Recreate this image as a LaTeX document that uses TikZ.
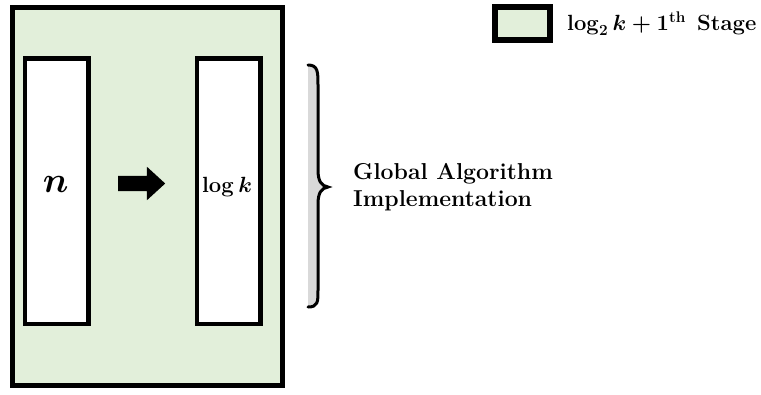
\RequirePackage{fix-cm}
\documentclass[tikz,border=0pt]{standalone}
\usepackage{amssymb,amsmath}
\usepackage{tikz}
\usetikzlibrary{shapes,arrows,arrows.meta}
\usetikzlibrary{positioning}
\definecolor{stagegreen}{HTML}{E2EFDA}
\definecolor{bracegray}{HTML}{D9D9D9}

\begin{document}
\begin{tikzpicture}[x=1pt,y=-1pt]

% Define block styles
\tikzstyle{stage} = [rectangle, draw, line width=5pt, fill=stagegreen, inner sep=0pt]
\tikzstyle{block} = [rectangle, draw, line width=4.5pt, fill=white, inner sep=0pt,
    minimum width=63.5pt, minimum height=265.7pt]
\tikzstyle{fatarrow} = [single arrow, fill=black, inner sep=7.5pt, minimum height=47pt,
    single arrow head extend=9pt, single arrow tip angle=85, single arrow head indent=0pt]
\tikzstyle{txt} = [inner sep=0pt, font=\fontsize{22}{27}\selectfont\bfseries\boldmath]

\useasboundingbox (0,0) rectangle (761,394);

    % Place nodes
    \node [stage, minimum width=270pt, minimum height=378.5pt] (global) at (147.5,196.25) {};
    \node [block] (input) at (56.75,191.2) {};
    \node [block] (output) at (228.75,191.2) {};
    \node [fatarrow] (reduce) at (137.5,183.5) {};
    \node [inner sep=0pt, font=\fontsize{36}{40}\selectfont\boldmath] (nlabel) at (55.7,184.5) {$n$};
    \node [txt, anchor=base] (klabel) at (227,192) {$\log k$};

    % Legend
    \node [stage, line width=6pt, minimum width=54.7pt, minimum height=32.7pt] (legend) at (522.4,23.35) {};
    \node [txt, anchor=base west] (legtext) at (567,30) {$\log_2 k+1^{\mathrm{th}}$};
    \node [txt, anchor=base west] (stagelabel) at (697,30) {Stage};

    % Brace
    \fill [bracegray] (308,65) .. controls (318,65) and (318,72) .. (318,85) -- (318,170)
        .. controls (318,182) and (322,186) .. (328,187) .. controls (322,188) and (318,192) .. (318,204)
        -- (318,290) .. controls (318,302) and (318,307) .. (308,307) -- cycle;
    \draw [line width=3pt, line cap=round] (308,65) .. controls (318,65) and (318,72) .. (318,85) -- (318,170)
        .. controls (318,182) and (322,186) .. (328,187) .. controls (322,188) and (318,192) .. (318,204)
        -- (318,290) .. controls (318,302) and (318,307) .. (308,307);
    \node [txt, anchor=west, align=left, font=\fontsize{23}{27}\selectfont\bfseries] (scope) at (353,187) {Global Algorithm\\Implementation};
\end{tikzpicture}
\end{document}
